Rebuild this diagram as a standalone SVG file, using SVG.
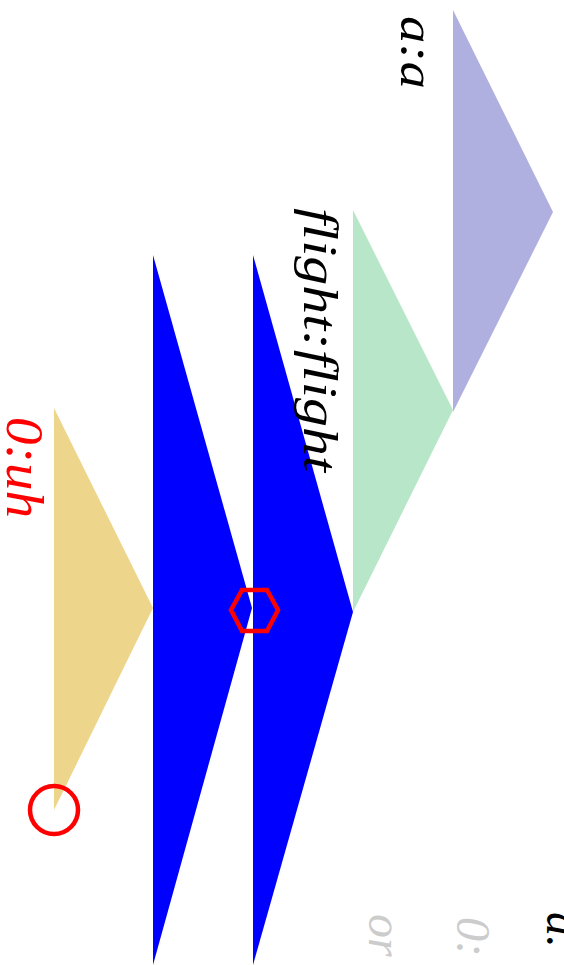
<svg xmlns="http://www.w3.org/2000/svg" width="564" height="965" viewBox="0 0 564 965">
<style>
text{font-family:"Liberation Serif","DejaVu Serif",serif;font-style:italic;font-size:48px}
.mark{fill:none;stroke:#ff0000;stroke-width:4.5}
</style>
<rect width="564" height="965" fill="#ffffff"/>
<g id="shapes">
<polygon id="purple" points="453,10 553,212 453,412" fill="#b0b0e0"/>
<polygon id="green" points="353,210 453,410 353,612" fill="#b8e6c8"/>
<polygon id="blue2" points="253,255 353,612 253,965" fill="#0000ff"/>
<polygon id="blue1" points="153,255 252,608 153,965" fill="#0000ff"/>
<polygon id="tan" points="54,408 153,608 54,810" fill="#edd68c"/>
</g>
<g id="connectors"></g>
<g id="markers">
<polygon class="mark" points="231,610 242,590 267,590 278,610 267,631 242,631"/>
<circle class="mark" cx="54" cy="810" r="24"/>
</g>
<g id="labels">
<text transform="translate(401,16) rotate(90)" textLength="73" lengthAdjust="spacingAndGlyphs">a:a</text>
<text transform="translate(304,208) rotate(90)" textLength="264" lengthAdjust="spacingAndGlyphs">flight:flight</text>
<text transform="translate(7,417) rotate(90)" fill="#ff0000" style="font-size:52px" textLength="101" lengthAdjust="spacingAndGlyphs">0:uh</text>
<text transform="translate(547,912) rotate(90)">a.</text>
<text transform="translate(457,917) rotate(90)" fill="#cccccc">0:</text>
<text transform="translate(369,914) rotate(90)" fill="#cccccc">or</text>
</g>
</svg>
